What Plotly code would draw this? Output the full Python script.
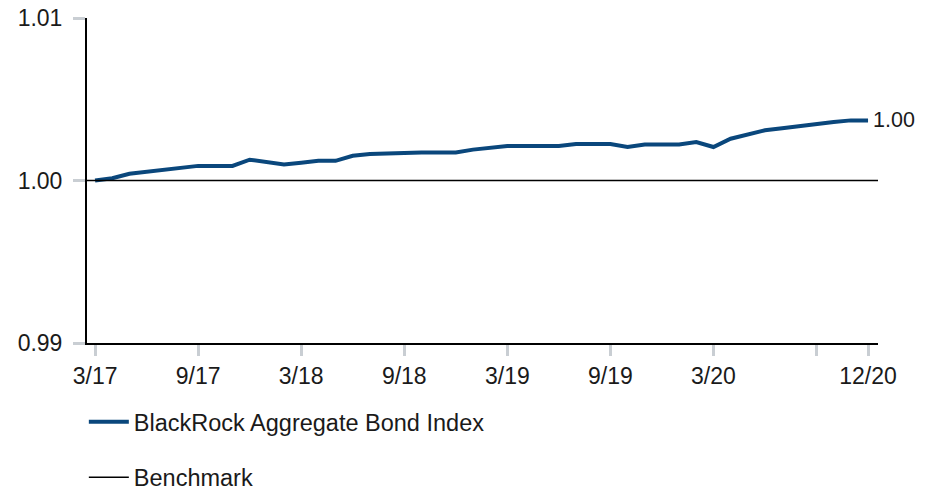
import plotly.graph_objects as go

# Monthly growth of $1, March 2017 through December 2020
months = [
    "3/17", "4/17", "5/17", "6/17", "7/17", "8/17", "9/17", "10/17", "11/17", "12/17",
    "1/18", "2/18", "3/18", "4/18", "5/18", "6/18", "7/18", "8/18", "9/18", "10/18",
    "11/18", "12/18", "1/19", "2/19", "3/19", "4/19", "5/19", "6/19", "7/19", "8/19",
    "9/19", "10/19", "11/19", "12/19", "1/20", "2/20", "3/20", "4/20", "5/20", "6/20",
    "7/20", "8/20", "9/20", "10/20", "11/20", "12/20",
]
fund_values = [
    1.00000, 1.00014, 1.00041, 1.00054, 1.00066, 1.00078, 1.00090, 1.00090, 1.00090, 1.00128,
    1.00111, 1.00099, 1.00109, 1.00121, 1.00121, 1.00152, 1.00163, 1.00168, 1.00173, 1.00173,
    1.00173, 1.00173, 1.00190, 1.00202, 1.00212, 1.00212, 1.00212, 1.00212, 1.00224, 1.00224,
    1.00224, 1.00206, 1.00222, 1.00222, 1.00222, 1.00237, 1.00206, 1.00257, 1.00284, 1.00309,
    1.00321, 1.00335, 1.00348, 1.00360, 1.00370, 1.00370,
]
benchmark_value = 1.00

tick_months = ["3/17", "9/17", "3/18", "9/18", "3/19", "9/19", "3/20", "9/20", "12/20"]
tick_labels = ["3/17", "9/17", "3/18", "9/18", "3/19", "9/19", "3/20", "", "12/20"]
y_ticks = [0.99, 1.00, 1.01]
end_label = "1.00"

FUND_NAME = "BlackRock Aggregate Bond Index"
BENCH_NAME = "Benchmark"
BLUE = "#0a477c"
FONT = "Liberation Sans, Arial, sans-serif"

x_idx = list(range(len(months)))
tick_idx = [months.index(m) for m in tick_months]
x_range = [-0.47, len(months) - 1 + 0.58]

fig = go.Figure()
fig.add_trace(go.Scatter(
    x=x_idx, y=fund_values, mode="lines", name=FUND_NAME,
    line=dict(color=BLUE, width=4), legendgroup="fund",
))
fig.add_trace(go.Scatter(
    x=x_range, y=[benchmark_value, benchmark_value], mode="lines", name=BENCH_NAME,
    line=dict(color="#000000", width=1.6), legendgroup="bench",
))

fig.add_annotation(
    x=x_idx[-1], y=fund_values[-1], text=end_label, showarrow=False,
    xanchor="left", yanchor="middle", xshift=3,
    font=dict(size=21.5, color="#1a1a1a", family=FONT),
)

fig.update_layout(
    width=935, height=491,
    margin=dict(l=87, r=57, t=18, b=148, autoexpand=False),
    paper_bgcolor="white", plot_bgcolor="white",
    font=dict(family=FONT, size=23, color="#1a1a1a"),
    showlegend=True,
    legend=dict(
        orientation="v", x=-0.004, xanchor="left", y=-0.175, yanchor="top",
        font=dict(size=23.5, color="#1a1a1a", family=FONT),
        itemwidth=40, tracegroupgap=22, bgcolor="rgba(0,0,0,0)",
    ),
    xaxis=dict(
        range=x_range, tickmode="array", tickvals=tick_idx, ticktext=tick_labels,
        showgrid=False, zeroline=False, showline=True, linecolor="#000000", linewidth=2,
        ticks="outside", ticklen=11, tickwidth=3, tickcolor="#c9ced3",
        tickfont=dict(size=23), fixedrange=True,
    ),
    yaxis=dict(
        range=[0.99, 1.01], tickmode="array", tickvals=y_ticks,
        ticktext=[f"{v:.2f}" for v in y_ticks],
        showgrid=False, zeroline=False, showline=True, linecolor="#000000", linewidth=2,
        ticks="outside", ticklen=12, tickwidth=3, tickcolor="#c9ced3",
        tickfont=dict(size=23), ticklabelstandoff=6, fixedrange=True,
    ),
)

fig.write_html("out.html")
